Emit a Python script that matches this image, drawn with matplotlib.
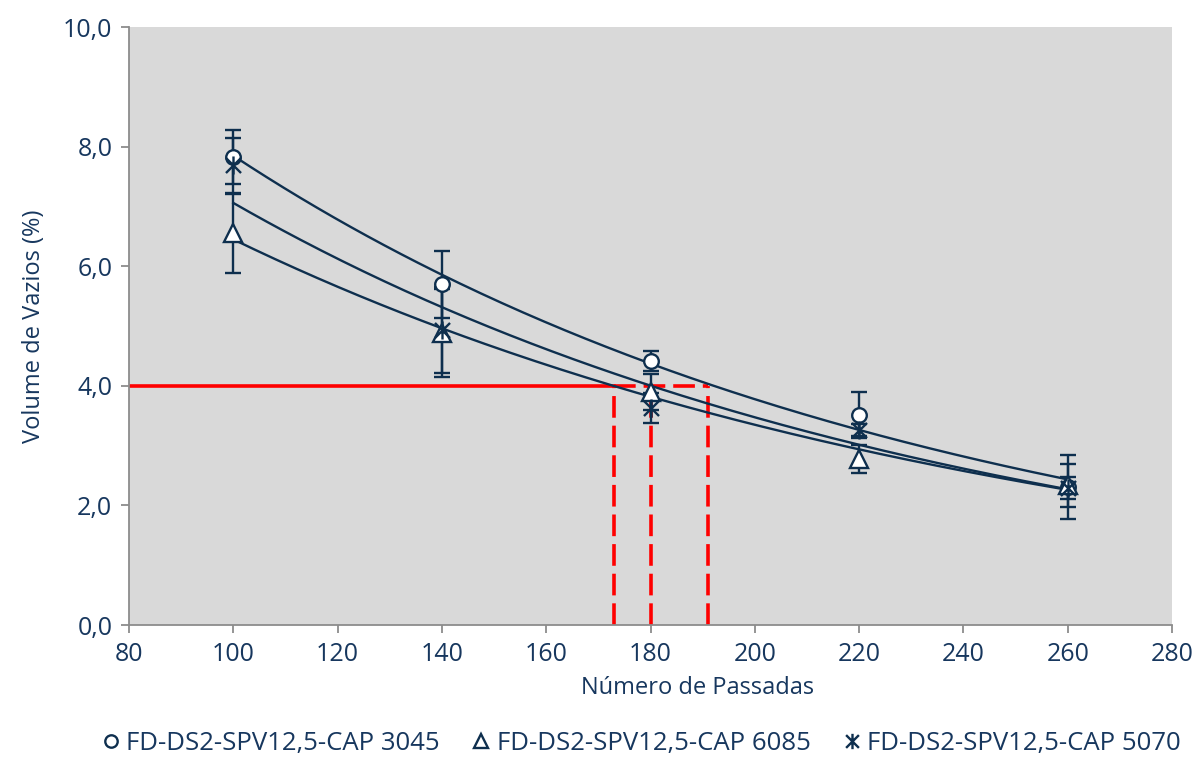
import numpy as np
import matplotlib
matplotlib.use("Agg")
import matplotlib.pyplot as plt
from matplotlib.path import Path

plt.rcParams['font.family'] = ['Open Sans', 'DejaVu Sans']

passadas = [100, 140, 180, 220, 260]
labels = ["FD-DS2-SPV12,5-CAP 3045", "FD-DS2-SPV12,5-CAP 6085", "FD-DS2-SPV12,5-CAP 5070"]
vv_3045 = [7.83, 5.70, 4.41, 3.51, 2.31]
vv_6085 = [6.55, 4.88, 3.90, 2.78, 2.34]
vv_5070 = [7.69, 4.93, 3.63, 3.26, 2.29]
err_3045 = [0.45, 0.56, 0.17, 0.39, 0.53]
err_6085 = [0.66, 0.74, 0.30, 0.23, 0.36]
err_5070 = [0.46, 0.72, 0.25, 0.10, 0.19]
target_vv = 4.0
cross_x = [173, 180, 191]

text_c = '#17375E'
line_c = '#0E2F4E'
axis_c = '#8C8C8C'

star = Path([(-1, -1), (1, 1), (-1, 1), (1, -1), (0, -1.2), (0, 1.2)],
            [Path.MOVETO, Path.LINETO, Path.MOVETO, Path.LINETO, Path.MOVETO, Path.LINETO])

fig = plt.figure(figsize=(12, 7.7), dpi=100)
ax = fig.add_axes([0.1075, 0.1883, 0.8692, 0.7766])
ax.set_facecolor('#D9D9D9')

# red reference lines
ax.plot([80, cross_x[0]], [target_vv, target_vv], color='#FF0000', lw=2.6, zorder=1)
ax.plot([cross_x[0], cross_x[2]], [target_vv, target_vv], color='#FF0000', lw=2.6,
        dashes=(6, 2.2), zorder=1)
for xv in cross_x:
    ax.plot([xv, xv], [0, target_vv], color='#FF0000', lw=2.6, dashes=(6, 2.2), zorder=1)

series = [(vv_3045, err_3045, 'o', 10.5, labels[0]),
          (vv_6085, err_6085, '^', 12.5, labels[1]),
          (vv_5070, err_5070, star, 13, labels[2])]

xs = np.array(passadas, dtype=float)
xfit = np.linspace(100, 260, 200)
handles = []
for vals, errs, mk, ms, lab in series:
    b, a = np.polyfit(xs, np.log(vals), 1)
    ax.plot(xfit, np.exp(a) * np.exp(b * xfit), color=line_c, lw=1.7, zorder=2)
    ax.errorbar(xs, vals, yerr=errs, fmt='none', ecolor=line_c, elinewidth=1.7,
                capsize=6, capthick=1.7, zorder=3)
    fc = 'none' if mk is star else 'white'
    h, = ax.plot(xs, vals, linestyle='none', marker=mk, markersize=ms,
                 markeredgecolor=line_c, markerfacecolor=fc, markeredgewidth=1.7,
                 zorder=4, label=lab)
    handles.append(h)

ax.set_xlim(80, 280)
ax.set_ylim(0, 10)
ax.set_xticks(np.arange(80, 281, 20))
ax.set_yticks(np.arange(0, 10.1, 2))
ax.set_yticklabels([f"{v:.1f}".replace('.', ',') for v in np.arange(0, 10.1, 2)])

for s in ['top', 'right']:
    ax.spines[s].set_visible(False)
for s in ['left', 'bottom']:
    ax.spines[s].set_color(axis_c)
    ax.spines[s].set_linewidth(1.3)
ax.tick_params(axis='both', direction='out', length=6, width=1.3, color=axis_c,
               labelcolor=text_c, labelsize=18, pad=6)

ax.set_xlabel('Número de Passadas', fontsize=17, color=text_c)
ax.xaxis.set_label_coords(0.5455, -0.085)
ax.set_ylabel('Volume de Vazios (%)', fontsize=17, color=text_c, labelpad=12)

leg = fig.legend(handles=handles, loc='lower center', bbox_to_anchor=(0.535, -0.012), ncol=3,
                 frameon=False, fontsize=18.5, handlelength=0.6, handletextpad=0.3,
                 columnspacing=1.3, markerscale=0.85)
for t in leg.get_texts():
    t.set_color(text_c)

fig.savefig('out.png', dpi=100)
